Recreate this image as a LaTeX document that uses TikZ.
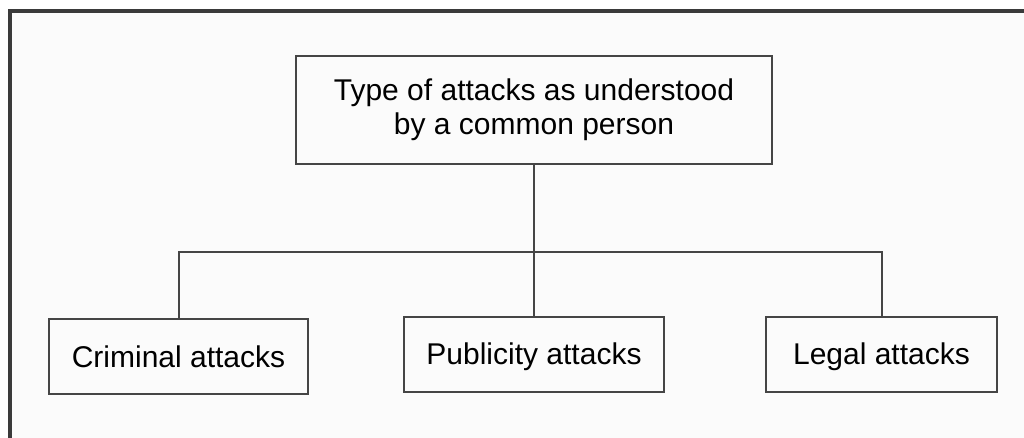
\documentclass[tikz,border=0pt]{standalone}
\usepackage{fontspec}
\setmainfont{Liberation Sans}
\usepackage{tikz}
\usetikzlibrary{positioning}
\definecolor{framegray}{HTML}{3A3A3A}
\definecolor{boxgray}{HTML}{454545}
\definecolor{paper}{HTML}{FBFBFB}
\tikzstyle{line} = [draw=boxgray,line width=2pt]

\begin{document}
\begin{tikzpicture}[x=1pt,y=-1pt,
	type box/.style={rectangle, draw=boxgray, line width=2pt, inner sep=0pt, align=center,
		font=\fontsize{30}{34}\selectfont, minimum width=476pt, minimum height=108pt},
	kind box/.style={rectangle, draw=boxgray, line width=2pt, inner sep=0pt, text centered,
		font=\fontsize{30}{34}\selectfont, text height=21.5pt, text depth=0pt, minimum height=75pt}]
	
	\useasboundingbox (0,0) rectangle (1024,438);
	\begin{scope}
		\clip (0,0) rectangle (1024,438);
		\draw[draw=framegray, line width=3.5pt, fill=paper] (10,11) rectangle (1040,460);
	\end{scope}
	
	\node[type box] (type) at (534,110) {Type of attacks as understood\\by a common person};
	
	\node[kind box, minimum width=259pt] (criminal) at (178.5,356.5) {Criminal attacks};
	\node[kind box, minimum width=260pt] (publicity) at (534,354) {Publicity attacks};
	\node[kind box, minimum width=231pt] (legal) at (881.5,354) {Legal attacks};
	
	\coordinate (bus) at (534,252);
	
	\draw[line] (type) -- (publicity);
	\draw[line] (criminal.north) |- (bus) -| (legal.north);
\end{tikzpicture}
\end{document}
